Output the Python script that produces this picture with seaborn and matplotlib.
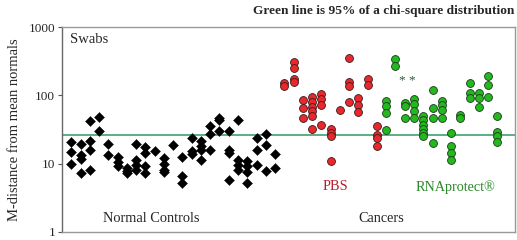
import numpy as np
import pandas as pd
import matplotlib
matplotlib.use("Agg")
import matplotlib.pyplot as plt
import seaborn as sns

# ---- data (sample index -> M-distance values) ----
normal_idx = [1, 2, 3, 4, 5, 6, 7, 8, 9, 10, 11, 12, 13, 14, 15, 16, 17, 18, 19, 20, 21, 22, 23]
normal_vals = [
    [21, 15, 10], [19.5, 13.5, 11.7, 7.2], [42, 21.5, 15.8, 8.2], [48, 30], [19.5, 13.5],
    [12.5, 10.5, 9.2], [8.6, 7.8, 7.2], [19.5, 11.5, 9.7, 8.0], [17.5, 14.5, 9.2, 7.2], [15.5],
    [12, 10, 8.2, 7.5], [19], [12.5, 6.5, 5.2], [23.5, 15.5, 13.7], [21.5, 18, 16, 11.5],
    [35, 27.5, 16], [47, 43, 30], [30.5, 16, 14.5, 5.8], [43, 11.2, 9.5, 8.0],
    [11, 9.2, 7.6, 5.2], [24, 16, 9.7], [27.5, 19, 7.7], [14, 8.6],
]
pbs_idx = [24, 25, 26, 27, 28, 29, 30, 31, 32, 33, 34]
pbs_vals = [
    [150, 135], [305, 255, 172, 155], [85, 66, 46], [96, 80, 68, 58, 50, 32],
    [103, 88, 71, 37], [32, 28, 25, 10.8], [60], [350, 155, 137, 80], [92, 72, 57],
    [175, 142], [36, 26, 24, 18],
]
rna_idx = [35, 36, 37, 38, 39, 40, 41, 42, 43, 44, 45, 46, 47]
rna_vals = [
    [82, 70, 56, 31.5], [335, 272], [76, 70, 47], [87, 74, 59, 47], [50, 43, 37, 32, 28, 25],
    [118, 66, 47, 20], [84, 71, 60, 47], [28, 18, 14.5, 11.5], [52, 47], [150, 110, 90],
    [110, 90, 68], [190, 140, 95], [50, 29, 25, 21],
]
chi2_95 = 26.3
yticks = [1, 10, 100, 1000]
ytick_labels = ["1", "10", "100", "1000"]


def to_frame(idx, vals, group):
    rows = [(i, v, group) for i, vs in zip(idx, vals) for v in vs]
    return pd.DataFrame(rows, columns=["sample", "mdist", "group"])


df_n = to_frame(normal_idx, normal_vals, "Normal")
df_p = to_frame(pbs_idx, pbs_vals, "PBS")
df_r = to_frame(rna_idx, rna_vals, "RNAprotect")

sns.set_theme(style="white")
plt.rcParams["font.family"] = ["Liberation Serif", "DejaVu Serif"]

fig = plt.figure(figsize=(5.17, 2.40), dpi=100)
ax = fig.add_axes([62 / 517, 1 - 232 / 240, (515 - 62) / 517, (232 - 27) / 240])

ax.axhline(chi2_95, color="#3f9f6f", lw=1.2, zorder=1)

sns.scatterplot(data=df_n, x="sample", y="mdist", marker="D", s=26, color="black",
                edgecolor="black", linewidth=0.3, ax=ax, zorder=3, legend=False)
sns.scatterplot(data=df_p, x="sample", y="mdist", marker="o", s=32, color="#e8282d",
                edgecolor="#3a1a1a", linewidth=0.6, ax=ax, zorder=3, legend=False)
sns.scatterplot(data=df_r, x="sample", y="mdist", marker="o", s=32, color="#22b81e",
                edgecolor="#1a3a1a", linewidth=0.6, ax=ax, zorder=3, legend=False)

ax.set_yscale("log")
ax.set_ylim(1, 1000)
ax.set_xlim(0, 48.9)
ax.set_yticks(yticks)
ax.set_yticklabels(ytick_labels)
ax.minorticks_off()
ax.set_xticks([])
ax.set_xlabel("")
ax.set_ylabel("M-distance from mean normals", fontsize=10.5, labelpad=5)
ax.tick_params(axis="y", which="major", direction="out", length=3, width=0.8,
               color="#555555", labelsize=9.5, pad=2, left=True)
for sp in ax.spines.values():
    sp.set_color("#999999")
    sp.set_linewidth(1.0)
ax.spines["left"].set_color("#666666")

ax.text(0.017, 0.937, "Swabs", transform=ax.transAxes, fontsize=10.5, va="center", ha="left")
ax.text(37.3, 160, "* *", fontsize=9.5, color="#2a5a3a", ha="center", va="center")
ax.text(9.6, 1.6, "Normal Controls", fontsize=10.4, ha="center", va="center")
ax.text(29.5, 4.6, "PBS", fontsize=10.3, color="#b8202a", ha="center", va="center")
ax.text(42.5, 4.6, "RNAprotect\u00ae", fontsize=10.3, color="#2a8a2a", ha="center", va="center")
ax.text(34.5, 1.6, "Cancers", fontsize=10.3, ha="center", va="center")

fig.text(514 / 517, 1 - 11 / 240, "Green line is 95% of a chi-square distribution",
         fontsize=9.6, fontweight="bold", ha="right", va="center")

fig.savefig("out.png", dpi=100)
